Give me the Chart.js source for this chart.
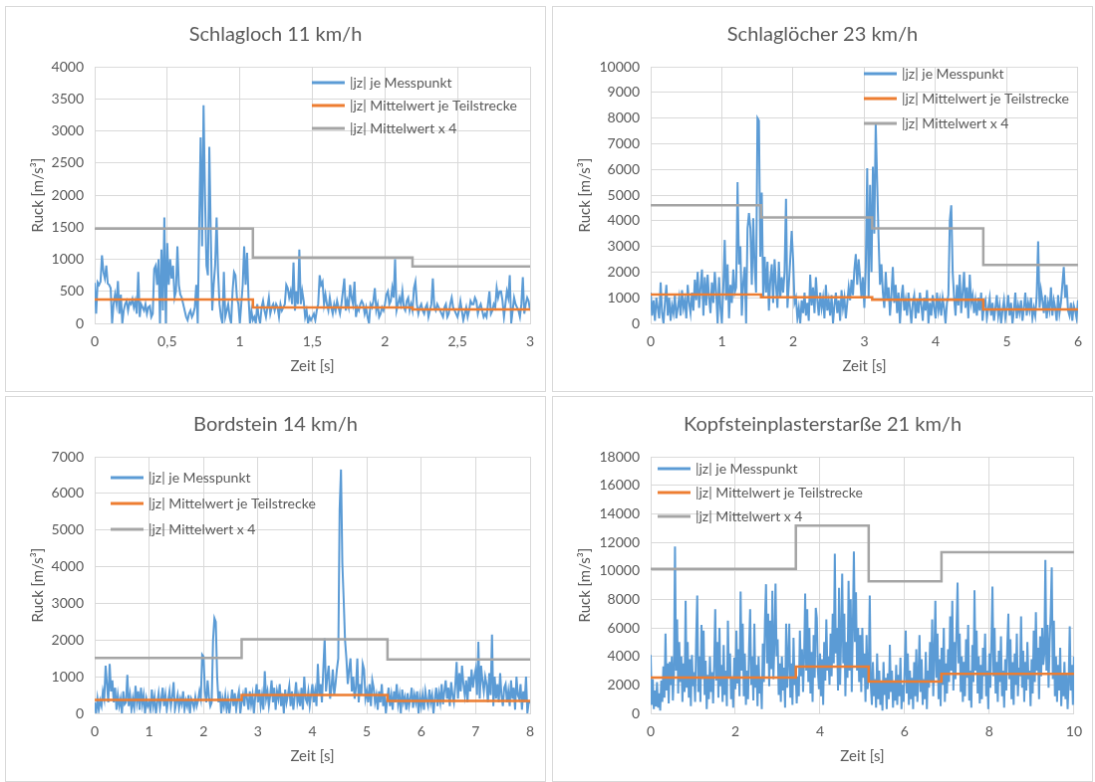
<!DOCTYPE html>
<html lang="de">
<head>
    <meta charset="UTF-8">
    <title>Ruck je Messpunkt</title>
    <script src="https://cdn.jsdelivr.net/npm/chart.js"></script>
    <style>
        body {
            margin: 0;
            background: #fff;
            width: 1095px;
            height: 782px;
            overflow: hidden;
            position: relative;
        }
        canvas {
            position: absolute;
            border: 1px solid #d9d9d9;
        }
        #c1 { left: 5px;   top: 6px; }
        #c2 { left: 552px; top: 6px; }
        #c3 { left: 5px;   top: 396px; }
        #c4 { left: 552px; top: 396px; }
    </style>
</head>
<body>
    <canvas id="c1" width="541" height="386"></canvas>
    <canvas id="c2" width="541" height="386"></canvas>
    <canvas id="c3" width="541" height="386"></canvas>
    <canvas id="c4" width="541" height="386"></canvas>

    <script>
        // --- data ---
        const titles = ['Schlagloch 11 km/h', 'Schlaglöcher 23 km/h', 'Bordstein 14 km/h', 'Kopfsteinplasterstarße 21 km/h'];
        const seriesLabels = ['|jz| je Messpunkt', '|jz| Mittelwert je Teilstrecke', '|jz| Mittelwert x 4'];

        const xMax = [3, 6, 8, 10];
        const xStep = [0.5, 1, 1, 2];
        const yMax = [4000, 10000, 7000, 18000];
        const yStep = [500, 1000, 1000, 2000];

        // sample interval of the measured points [s]
        const sampleDt = [0.01, 0.02, 0.025, 0.025];

        const jerk1 = [
            630, 150, 640, 600, 650, 1060, 800, 700, 900, 620,
            600, 550, 0, 300, 450, 300, 660, 150, 450, 0,
            200, 300, 350, 200, 330, 300, 380, 250, 350, 150,
            800, 100, 300, 250, 200, 300, 150, 250, 270, 100,
            150, 850, 900, 600, 1000, 0, 1150, 200, 1650, 0,
            1250, 600, 1000, 700, 900, 400, 500, 1200, 600, 450,
            400, 300, 200, 100, 50, 150, 200, 100, 150, 250,
            600, 0, 1500, 2900, 1200, 3400, 2000, 900, 750, 2750,
            1400, 200, 600, 900, 1650, 800, 300, 100, 0, 800,
            100, 200, 300, 100, 0, 500, 800, 750, 400, 300,
            0, 300, 600, 1200, 600, 1100, 400, 0, 200, 50,
            100, 0, 300, 100, 0, 250, 350, 200, 100, 250,
            400, 150, 250, 300, 200, 300, 250, 100, 300, 200,
            250, 300, 600, 550, 400, 500, 300, 950, 200, 500,
            300, 1150, 300, 500, 350, 100, 200, 0, 100, 50,
            100, 150, 50, 200, 300, 750, 600, 650, 300, 450,
            300, 200, 400, 250, 150, 300, 200, 350, 250, 150,
            300, 500, 700, 200, 350, 250, 600, 400, 300, 650,
            100, 250, 200, 300, 350, 300, 150, 250, 100, 0,
            300, 250, 350, 550, 200, 300, 100, 150, 250, 200,
            300, 450, 500, 300, 350, 550, 400, 1000, 200, 300,
            400, 300, 500, 250, 200, 350, 400, 200, 300, 200,
            550, 650, 300, 150, 250, 300, 200, 150, 250, 300,
            100, 200, 300, 700, 250, 200, 300, 250, 200, 150,
            100, 250, 300, 100, 150, 300, 400, 250, 200, 150,
            100, 200, 350, 200, 50, 150, 250, 100, 200, 350,
            300, 300, 400, 350, 150, 250, 300, 200, 100, 150,
            100, 300, 500, 150, 200, 300, 250, 550, 400, 500,
            500, 350, 100, 300, 500, 400, 750, 0, 200, 400,
            300, 250, 200, 100, 300, 720, 150, 300, 400, 350,
            200
        ];
        const edges1 = [0, 1.09, 2.19, 3];
        const mean1 = [372, 248, 217];
        const meanX4_1 = [1476, 1027, 888];

        const jerk2 = [
            1200, 300, 900, 100, 1000, 600, 200, 1600, 400, 0,
            800, 1500, 300, 1000, 100, 700, 400, 1100, 200, 600,
            1000, 300, 1300, 600, 900, 200, 1500, 800, 400, 1200,
            500, 1700, 900, 2000, 600, 1400, 2100, 300, 1800, 700,
            1900, 1000, 400, 1600, 800, 2000, 1200, 0, 1800, 600,
            0, 1400, 3250, 900, 2300, 200, 1500, 800, 2100, 1200,
            1400, 5500, 2300, 3000, 300, 1600, 2200, 0, 3700, 4300,
            3700, 1500, 4100, 2200, 1200, 8000, 7900, 2600, 5100, 1000,
            2600, 1200, 2400, 500, 1700, 2300, 800, 2500, 1500, 600,
            2400, 1000, 1800, 1200, 2000, 4850, 600, 1500, 2500, 3600,
            2500, 800, 1000, 200, 600, 0, 900, 400, 1200, 300,
            800, 100, 1900, 700, 1400, 400, 1800, 900, 300, 1200,
            600, 1000, 200, 1500, 500, 900, 300, 1100, 0, 700,
            1200, 400, 900, 100, 1300, 600, 1000, 200, 800, 1400,
            900, 1700, 1100, 2100, 2700, 1500, 2500, 1800, 1000, 1800,
            600, 2200, 6050, 1000, 5400, 2000, 6100, 3500, 7800, 5500,
            3300, 1500, 2300, 1200, 600, 2000, 900, 1400, 300, 1100,
            2200, 800, 1500, 400, 1200, 0, 1000, 1500, 500, 900,
            300, 1200, 600, 0, 800, 1100, 200, 900, 400, 1200,
            700, 100, 1000, 500, 1300, 0, 800, 300, 1100, 600,
            200, 1200, 500, 900, 300, 1000, 600, 0, 800, 1100,
            4000, 4600, 2000, 1000, 300, 1500, 700, 1900, 400, 1200,
            2000, 600, 1400, 200, 1900, 800, 1100, 400, 900, 300,
            1000, 500, 1200, 100, 700, 900, 200, 600, 1000, 300,
            800, 100, 600, 1100, 300, 700, 0, 500, 900, 200,
            600, 1100, 300, 800, 0, 500, 1200, 200, 700, 400,
            900, 100, 600, 1200, 300, 800, 500, 1000, 200, 600,
            300, 1100, 3200, 600, 1300, 900, 400, 1100, 200, 800,
            500, 1400, 300, 900, 600, 100, 1100, 400, 800, 1500,
            2200, 1000, 1500, 500, 300, 800, 100, 700, 500, 200,
            900
        ];
        const edges2 = [0, 1.55, 3.11, 4.67, 6];
        const mean2 = [1126, 1022, 919, 543];
        const meanX4_2 = [4607, 4128, 3701, 2277];

        const jerk3 = [
            300, 0, 400, 100, 350, 200, 600, 400,
            1300, 800, 300, 1350, 600, 900, 300, 700,
            100, 500, 200, 400, 0, 600, 250, 300,
            1050, 200, 500, 100, 400, 150, 750, 300,
            600, 100, 700, 250, 500, 0, 400, 200,
            300, 100, 650, 200, 450, 0, 300, 550,
            150, 400, 700, 200, 500, 100, 350, 600,
            200, 450, 850, 100, 300, 500, 150, 400,
            250, 600, 100, 350, 200, 500, 0, 400,
            300, 150, 450, 200, 350, 600, 400, 1600,
            1550, 600, 300, 900, 450, 200, 300, 2000,
            2600, 2500, 1000, 300, 600, 0, 400, 200,
            500, 100, 400, 0, 300, 650, 200, 550,
            100, 400, 600, 0, 300, 500, 200, 700,
            400, 100, 600, 250, 500, 0, 450, 800,
            300, 650, 200, 500, 100, 1150, 400, 600,
            200, 500, 900, 300, 700, 100, 600, 400,
            800, 200, 550, 0, 650, 300, 500, 750,
            200, 600, 100, 450, 850, 300, 500, 200,
            700, 100, 1000, 400, 300, 600, 200, 500,
            800, 300, 600, 200, 1350, 500, 800, 300,
            1200, 2050, 600, 1000, 1300, 400, 700, 1200,
            500, 800, 1200, 1500, 5550, 6650, 4100, 3100,
            2000, 1500, 800, 1200, 1500, 600, 1000, 400,
            700, 1500, 300, 800, 500, 1350, 1200, 400,
            600, 300, 800, 200, 900, 700, 300, 500,
            100, 600, 300, 800, 200, 500, 0, 400,
            700, 200, 500, 100, 600, 300, 800, 250,
            500, 0, 650, 300, 450, 100, 550, 200,
            400, 700, 150, 500, 300, 600, 0, 450,
            200, 500, 100, 600, 350, 200, 650, 300,
            500, 0, 400, 700, 200, 550, 300, 800,
            250, 600, 900, 400, 700, 200, 850, 500,
            300, 750, 1400, 400, 1100, 600, 1300, 800,
            500, 900, 300, 1000, 600, 1200, 700, 1000,
            1200, 500, 1950, 400, 1300, 900, 600, 1000,
            800, 300, 1100, 500, 2150, 200, 1000, 400,
            800, 300, 1100, 500, 200, 700, 800, 300,
            600, 200, 900, 400, 700, 100, 1000, 500,
            400, 800, 100, 600, 300, 1000, 0, 300,
            300
        ];
        const edges3 = [0, 2.7, 5.38, 8];
        const mean3 = [363, 499, 336];
        const meanX4_3 = [1515, 2022, 1469];

        const jerk4 = [
            4100, 600, 2400, 300, 1600, 500, 2200, 400,
            1400, 200, 2300, 800, 3300, 1100, 5600, 1600,
            3500, 700, 3600, 2000, 4000, 900, 2800, 11700,
            3000, 6600, 1400, 5000, 2200, 4000, 800, 3500,
            1500, 7900, 1800, 5000, 1100, 3800, 500, 4100,
            1900, 2900, 800, 5200, 8260, 1500, 4000, 800,
            6200, 2400, 5800, 1300, 3700, 300, 2700, 1000,
            4000, 1500, 2900, 700, 3500, 7300, 2300, 5000,
            1100, 6000, 1900, 3400, 800, 4800, 1300, 3000,
            500, 6500, 2500, 4200, 1000, 2600, 400, 3900,
            1700, 5800, 2100, 4500, 1200, 8540, 3000, 6300,
            1200, 4200, 600, 3000, 1000, 4700, 7300, 2000,
            4000, 900, 6300, 1800, 3400, 500, 4000, 1400,
            2500, 300, 4900, 2200, 6500, 9060, 3500, 7000,
            1900, 6500, 3100, 8600, 2400, 5000, 9100, 4000,
            5200, 1300, 3500, 800, 4000, 1600, 3200, 400,
            6300, 1800, 4000, 6300, 1100, 3500, 600, 5300,
            2000, 3000, 700, 2600, 1200, 5800, 2600, 4500,
            1500, 4000, 8400, 3000, 7300, 2200, 6000, 1400,
            4300, 800, 5500, 2500, 7400, 6700, 3000, 1700,
            4200, 1200, 3800, 600, 5000, 2300, 6600, 3000,
            4000, 2000, 5600, 2600, 7000, 3500, 11200, 4200,
            6000, 1600, 8800, 2000, 5500, 9800, 3500, 7000,
            1200, 5000, 2500, 9300, 3000, 8000, 1500, 6000,
            11360, 5000, 8500, 3000, 6000, 2200, 5500, 1500,
            6000, 2500, 4200, 800, 5500, 1700, 3000, 8260,
            2000, 600, 3600, 1200, 2400, 400, 4200, 1000,
            3000, 600, 2200, 200, 3600, 1300, 2500, 300,
            2800, 1000, 4820, 1500, 3000, 400, 2200, 900,
            3400, 600, 2700, 1200, 3900, 300, 2000, 800,
            3200, 5800, 1400, 4200, 600, 3000, 1000, 2500,
            300, 3600, 1200, 4500, 800, 2600, 5500, 1500,
            3800, 600, 2400, 1000, 4300, 300, 3000, 1800,
            5000, 2300, 6600, 1200, 4000, 7900, 2500, 5600,
            1000, 3800, 500, 4600, 2000, 6000, 800, 3500,
            1400, 4500, 2200, 6800, 3000, 7900, 1600, 5000,
            2400, 6000, 9180, 3500, 5600, 1500, 4000, 800,
            3600, 1200, 5200, 2500, 6200, 900, 3000, 400,
            4800, 2200, 8640, 3000, 5800, 1400, 4000, 700,
            3400, 1000, 4600, 2600, 5600, 1200, 3000, 300,
            4200, 1800, 5200, 8900, 2600, 6000, 1400, 3600,
            800, 4400, 2200, 5400, 1200, 3000, 400, 3800,
            1600, 4800, 7000, 2400, 5200, 1000, 3600, 600,
            4200, 2000, 5600, 1200, 3200, 2600, 6800, 1800,
            4400, 800, 3600, 1600, 5000, 2400, 3000, 500,
            3800, 1400, 5800, 2200, 7100, 3000, 4600, 1000,
            5400, 2600, 6000, 3400, 4200, 10760, 3000, 6200,
            1800, 5000, 7000, 10240, 2400, 6500, 1200, 4000,
            800, 3400, 1600, 4600, 500, 2800, 1200, 3600,
            1000, 2800, 300, 2200, 6100, 1600, 3400, 600,
            4000
        ];
        const edges4 = [0, 3.43, 5.15, 6.87, 10];
        const mean4 = [2518, 3287, 2238, 2775];
        const meanX4_4 = [10140, 13170, 9256, 11306];

        // --- drawing ---
        const textGrey = '#595959';
        const gridGrey = '#d9d9d9';
        const colors = ['#5b9bd5', '#ed7d31', '#a5a5a5'];

        Chart.defaults.font.family = 'Lato, "Open Sans", sans-serif';
        Chart.defaults.color = textGrey;

        // legend drawn inside the plot area, like the Excel original
        const innerLegend = {
            id: 'innerLegend',
            afterDatasetsDraw(chart, args, opts) {
                const ctx = chart.ctx;
                ctx.save();
                ctx.font = '14px Lato, "Open Sans", sans-serif';
                ctx.textBaseline = 'middle';
                chart.data.datasets.forEach((ds, i) => {
                    const y = opts.y + i * opts.gap;
                    ctx.strokeStyle = ds.borderColor;
                    ctx.lineWidth = 3;
                    ctx.beginPath();
                    ctx.moveTo(opts.x, y);
                    ctx.lineTo(opts.x + 33, y);
                    ctx.stroke();
                    ctx.fillStyle = textGrey;
                    ctx.fillText(ds.label, opts.x + 38, y);
                });
                ctx.restore();
            }
        };

        function steps(edges, vals) {
            return edges.map((x, i) => ({ x: x, y: vals[Math.min(i, vals.length - 1)] }));
        }

        function makeChart(id, n, jerk, edges, mean, meanX4, yAxisWidth, legendPos) {
            const dt = sampleDt[n];
            const side = 15 - (n % 2);
            const ctx = document.getElementById(id).getContext('2d');
            return new Chart(ctx, {
                type: 'line',
                data: {
                    datasets: [
                        {
                            label: seriesLabels[0],
                            data: jerk.map((v, i) => ({ x: i * dt, y: v })),
                            borderColor: colors[0],
                            borderWidth: 2,
                            order: 3
                        },
                        {
                            label: seriesLabels[1],
                            data: steps(edges, mean),
                            borderColor: colors[1],
                            borderWidth: 2.5,
                            stepped: 'before',
                            order: 2
                        },
                        {
                            label: seriesLabels[2],
                            data: steps(edges, meanX4),
                            borderColor: colors[2],
                            borderWidth: 2.5,
                            stepped: 'before',
                            order: 1
                        }
                    ]
                },
                options: {
                    responsive: false,
                    animation: false,
                    devicePixelRatio: 1,
                    elements: { point: { radius: 0 }, line: { tension: 0 } },
                    // symmetric side padding keeps the title centred on the panel
                    layout: { padding: { left: side, right: side, top: 0, bottom: 0 } },
                    plugins: {
                        legend: { display: false },
                        tooltip: { enabled: false },
                        title: {
                            display: true,
                            text: titles[n],
                            color: textGrey,
                            font: { size: 20, weight: 'normal' },
                            padding: { top: 16, bottom: 20 }
                        },
                        innerLegend: legendPos
                    },
                    scales: {
                        x: {
                            type: 'linear',
                            min: 0,
                            max: xMax[n],
                            afterFit: s => { s.height = 68; },
                            ticks: {
                                stepSize: xStep[n],
                                padding: 10,
                                font: { size: 14 },
                                callback: v => String(v).replace('.', ',')
                            },
                            grid: { color: gridGrey, drawTicks: false },
                            border: { color: gridGrey },
                            title: {
                                display: true,
                                text: 'Zeit [s]',
                                font: { size: 15 },
                                padding: { top: 0, bottom: 16 }
                            }
                        },
                        y: {
                            min: 0,
                            max: yMax[n],
                            afterFit: s => { s.width = yAxisWidth - side; },
                            ticks: {
                                stepSize: yStep[n],
                                padding: 11,
                                font: { size: 14 },
                                callback: v => String(v)
                            },
                            grid: { color: gridGrey, drawTicks: false },
                            border: { color: gridGrey },
                            title: {
                                display: true,
                                text: 'Ruck [m/s³]',
                                font: { size: 15 },
                                padding: { top: 23 - side, bottom: 0 }
                            }
                        }
                    }
                },
                plugins: [innerLegend]
            });
        }

        makeChart('c1', 0, jerk1, edges1, mean1, meanX4_1, 89, { x: 307, y: 76, gap: 23 });
        makeChart('c2', 1, jerk2, edges2, mean2, meanX4_2, 98, { x: 312, y: 67, gap: 25 });
        makeChart('c3', 2, jerk3, edges3, mean3, meanX4_3, 89, { x: 105, y: 81, gap: 26 });
        makeChart('c4', 3, jerk4, edges4, mean4, meanX4_4, 98, { x: 105, y: 72, gap: 24 });
    </script>
</body>
</html>
